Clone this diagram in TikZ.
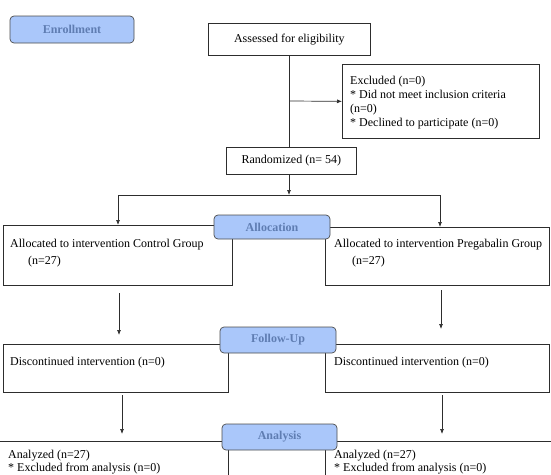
\documentclass[tikz,border=0pt]{standalone}
\usepackage{fontspec}
\setmainfont{Liberation Serif}
\usetikzlibrary{arrows.meta}
\definecolor{lblfill}{RGB}{170,199,250}
\definecolor{lbltext}{RGB}{95,125,178}
\definecolor{lineclr}{RGB}{45,45,45}
\begin{document}
\begin{tikzpicture}[x=1pt,y=-1pt,
  box/.style={draw=lineclr,line width=0.7pt,rectangle,inner sep=0pt,anchor=north west,font=\fontsize{12}{14}\selectfont},
  txt/.style={inner sep=0pt,anchor=base west,font=\fontsize{12}{14}\selectfont},
  lbl/.style={draw=black!70,line width=0.7pt,fill=lblfill,rounded corners=4pt,text=lbltext,font=\bfseries\fontsize{12}{14}\selectfont,inner sep=0pt},
  arr/.style={draw=lineclr,line width=0.7pt,-{Latex[length=5pt,width=4pt]}},
  ln/.style={draw=lineclr,line width=0.7pt}]
\useasboundingbox (0,0) rectangle (551,474);
\clip (0,0) rectangle (551,474);
% boxes
\node[box,minimum width=162pt,minimum height=32pt] (assess) at (208,23) {Assessed for eligibility};
\node[box,minimum width=197pt,minimum height=74pt] (excl) at (342,64) {};
\node[box,minimum width=130pt,minimum height=27pt] (rand) at (226,147) {Randomized (n= 54)};
\node[box,minimum width=229pt,minimum height=60pt] (allocL) at (3,225) {};
\node[box,minimum width=224pt,minimum height=58pt] (allocR) at (325,227) {};
\node[box,minimum width=225pt,minimum height=48pt] (followL) at (3,344) {};
\node[box,minimum width=224pt,minimum height=48pt] (followR) at (325,344) {};
\node[box,minimum width=230pt,minimum height=60pt] (anaL) at (-2,441) {};
\node[box,minimum width=240pt,minimum height=60pt] (anaR) at (325,441) {};
% texts
\node[txt] (ex1) at (350,84) {Excluded (n=0)};
\node[txt] (ex2) at (350,98) {* Did not meet inclusion criteria};
\node[txt] (ex3) at (350,112) {(n=0)};
\node[txt] (ex4) at (350,126) {* Declined to participate (n=0)};
\node[txt] (al1) at (10,247) {Allocated to intervention Control Group};
\node[txt] (al2) at (28,264) {(n=27)};
\node[txt] (ar1) at (334,247) {Allocated to intervention Pregabalin Group};
\node[txt] (ar2) at (352,264) {(n=27)};
\node[txt] (fl1) at (10,365) {Discontinued intervention (n=0)};
\node[txt] (fr1) at (334,365) {Discontinued intervention (n=0)};
\node[txt] (nl1) at (8,458.5) {Analyzed (n=27)};
\node[txt] (nl2) at (8,471) {* Excluded from analysis (n=0)};
\node[txt] (nr1) at (334,458.5) {Analyzed (n=27)};
\node[txt] (nr2) at (334,471) {* Excluded from analysis (n=0)};
% connectors
\coordinate (brk) at (289,101);
\coordinate (split) at (289,195);
\coordinate (lsplit) at (118,195);
\coordinate (rsplit) at (440,195);
\coordinate (fa1) at (119,293);
\coordinate (fa2) at (119,335);
\coordinate (fb1) at (441,290);
\coordinate (fb2) at (441,329);
\coordinate (ga1) at (122,395);
\coordinate (ga2) at (122,434);
\coordinate (gb1) at (442,395);
\coordinate (gb2) at (442,434);
\draw[ln] (assess.south -| brk) -- (rand.north -| brk);
\draw[arr] (brk) -- (excl.west);
\draw[arr] (rand.south -| split) -- (split);
\draw[ln] (lsplit) -- (rsplit);
\draw[arr] (lsplit) -- (lsplit |- allocL.north);
\draw[arr] (rsplit) -- (rsplit |- allocR.north);
\draw[arr] (fa1) -- (fa2);
\draw[arr] (fb1) -- (fb2);
\draw[arr] (ga1) -- (ga2);
\draw[arr] (gb1) -- (gb2);
% labels
\node[lbl,minimum width=124pt,minimum height=27pt] (enroll) at (72,29.5) {Enrollment};
\node[lbl,minimum width=116pt,minimum height=24pt] (alloc) at (272,227) {Allocation};
\node[lbl,minimum width=116pt,minimum height=26pt] (follow) at (278,340) {Follow-Up};
\node[lbl,minimum width=115pt,minimum height=26pt] (analysis) at (279.5,437) {Analysis};
\end{tikzpicture}
\end{document}
